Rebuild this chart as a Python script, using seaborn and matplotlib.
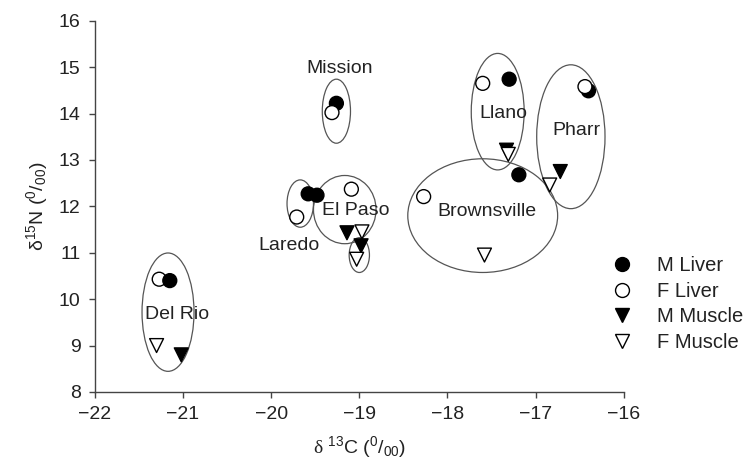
import matplotlib
matplotlib.use("Agg")
import matplotlib.pyplot as plt
from matplotlib.patches import Ellipse
import seaborn as sns
import pandas as pd

# ---- data ----
groups = ["F Liver", "M Liver", "F Muscle", "M Muscle",          # Del Rio
          "M Liver", "F Liver",                                  # Mission
          "M Liver", "M Liver", "F Liver",                       # Laredo
          "F Liver", "M Muscle", "F Muscle", "M Muscle", "F Muscle",  # El Paso
          "F Liver", "M Liver", "M Muscle", "F Muscle",          # Llano
          "F Liver", "M Liver", "F Muscle",                      # Brownsville
          "M Liver", "F Liver", "M Muscle", "F Muscle"]          # Pharr
d13C = [-21.27, -21.15, -21.30, -21.02,
        -19.26, -19.31,
        -19.58, -19.48, -19.71,
        -19.09, -19.14, -18.97, -18.98, -19.03,
        -17.60, -17.30, -17.33, -17.31,
        -18.27, -17.19, -17.58,
        -16.40, -16.44, -16.72, -16.84]
d15N = [10.43, 10.40, 9.00, 8.80,
        14.22, 14.02,
        12.27, 12.24, 11.77,
        12.37, 11.43, 11.45, 11.15, 10.86,
        14.65, 14.74, 13.21, 13.12,
        12.21, 12.68, 10.95,
        14.49, 14.58, 12.75, 12.46]

legend_order = ["M Liver", "F Liver", "M Muscle", "F Muscle"]

# site labels
site_names = ["Mission", "Llano", "Pharr", "Brownsville", "El Paso", "Laredo", "Del Rio"]
site_x = [-19.22, -17.37, -16.54, -17.55, -19.04, -19.80, -21.07]
site_y = [14.97, 14.00, 13.64, 11.88, 11.91, 11.15, 9.68]

# grouping ellipses: centre x, centre y, width, height
ell_x = [-21.17, -19.26, -19.67, -19.165, -19.00, -17.43, -17.60, -16.60]
ell_y = [9.72, 14.05, 12.06, 11.93, 10.95, 14.04, 11.80, 13.50]
ell_w = [0.59, 0.32, 0.30, 0.71, 0.23, 0.60, 1.70, 0.775]
ell_h = [2.55, 1.38, 1.02, 1.47, 0.75, 2.51, 2.45, 3.10]

df = pd.DataFrame({"group": groups, "d13C": d13C, "d15N": d15N})

# ---- style ----
sns.set_style("ticks")
plt.rcParams["font.family"] = ["Liberation Sans", "DejaVu Sans"]
plt.rcParams["mathtext.fontset"] = "custom"
plt.rcParams["mathtext.rm"] = "Liberation Serif"
plt.rcParams["mathtext.default"] = "regular"
txt = "#222222"
FS = 14

fig = plt.figure(figsize=(7.47, 4.76), dpi=100)
ax = fig.add_axes([0.127, 0.1765, 0.708, 0.78])

for cx, cy, w, h in zip(ell_x, ell_y, ell_w, ell_h):
    ax.add_patch(Ellipse((cx, cy), w, h, fill=False, edgecolor="#555555",
                         linewidth=0.9, zorder=1))

palette = {"M Liver": "black", "F Liver": "white",
           "M Muscle": "black", "F Muscle": "white"}
markers = {"M Liver": "o", "F Liver": "o", "M Muscle": "v", "F Muscle": "v"}

sns.scatterplot(data=df, x="d13C", y="d15N", hue="group", style="group",
                hue_order=legend_order, style_order=legend_order,
                palette=palette, markers=markers, s=100,
                edgecolor="black", linewidth=1.0, ax=ax, zorder=3)

for name, x, y in zip(site_names, site_x, site_y):
    ax.text(x, y, name, ha="center", va="center", fontsize=FS, color=txt, zorder=4)

ax.set_xlim(-22, -16)
ax.set_ylim(8, 16)
ax.set_xticks([-22, -21, -20, -19, -18, -17, -16])
ax.set_yticks(range(8, 17))
for s in ["top", "right"]:
    ax.spines[s].set_visible(False)
for s in ["left", "bottom"]:
    ax.spines[s].set_color("#444444")
    ax.spines[s].set_linewidth(1.0)
ax.tick_params(direction="out", length=4.3, width=1.0, color="#444444",
               labelsize=FS, labelcolor=txt, pad=6)

ax.set_xlabel(r"$\mathrm{\delta}$ $^{13}$C ($^{0}$/$_{00}$)", fontsize=FS,
              color=txt, labelpad=8)
ax.set_ylabel("δ$^{15}$N ($^{0}$/$_{00}$)", fontsize=FS, color=txt, labelpad=6)

LFS = 14.5
sns.move_legend(ax, loc="center left", bbox_to_anchor=(611.6 / 747, 1 - 304 / 476),
                bbox_transform=fig.transFigure, frameon=False, title=None,
                borderaxespad=0, borderpad=0, handlelength=1.0,
                handletextpad=1.24, labelspacing=0.33, fontsize=LFS)
for t in ax.get_legend().get_texts():
    t.set_color(txt)

fig.savefig("out.png", dpi=100)
